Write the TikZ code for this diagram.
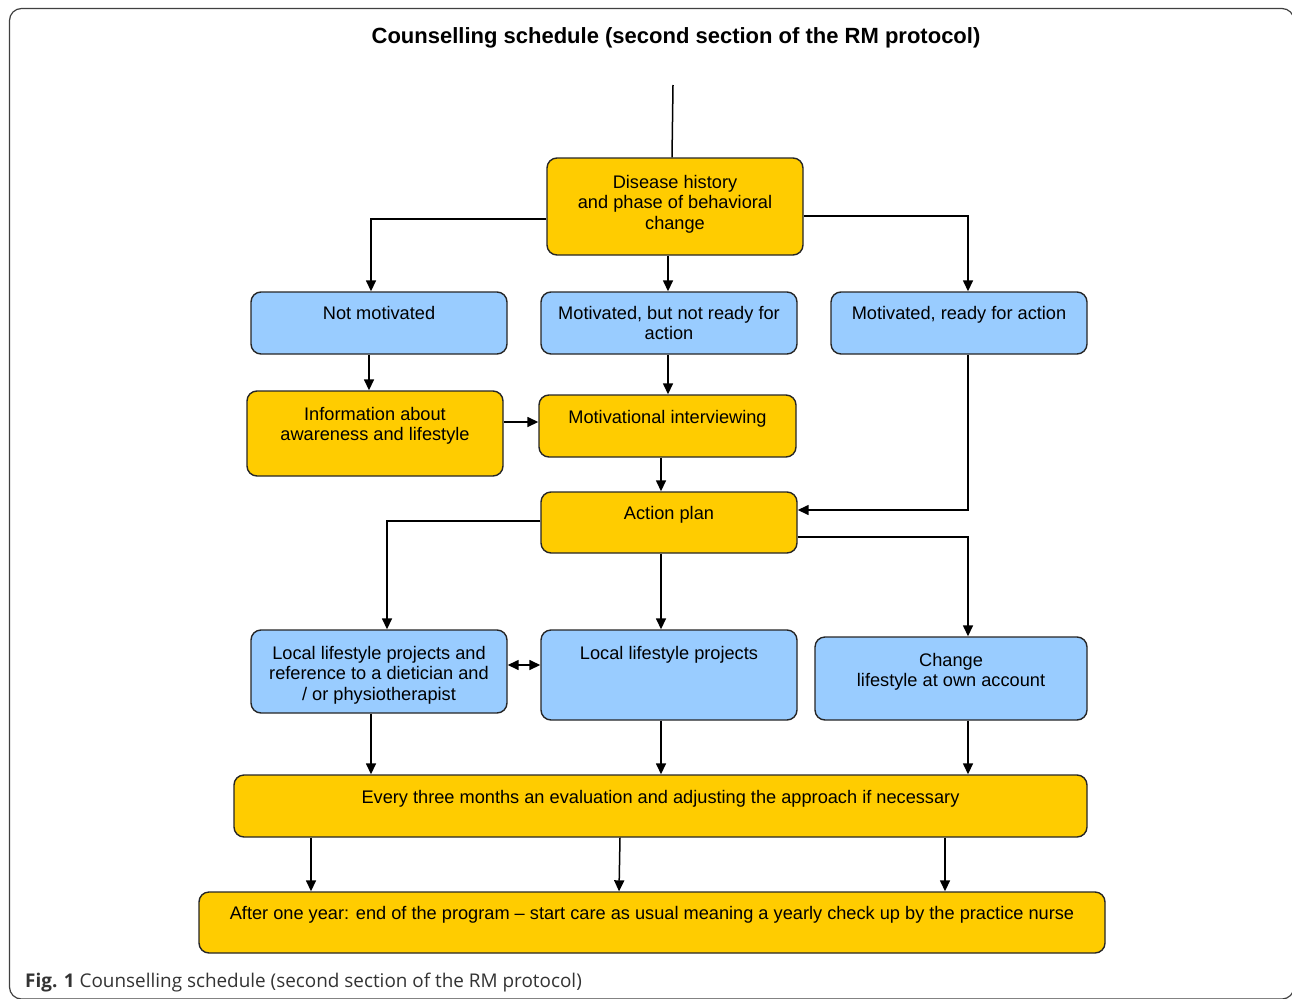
\documentclass[tikz,border=0pt]{standalone}
\usepackage{fontspec}
\setmainfont{Liberation Sans}
\newfontfamily\capfont{Open Sans}
\usetikzlibrary{arrows.meta,calc}
\definecolor{boxyellow}{HTML}{FFCC00}
\definecolor{boxblue}{HTML}{99CCFF}
\newcommand\mkbox[8]{%
  \node[#6, minimum width={#4-#2}, minimum height={#5-#3}] (#1) at ({(#2+#4)/2},{(#3+#5)/2}) {};
  \node[txt] (#1-t) at ({(#2+#4)/2},#8) {#7};
}
\begin{document}
\begin{tikzpicture}[x=1pt,y=-1pt,
  box/.style={draw=black!85, line width=1.4pt, rounded corners=10pt, inner sep=0pt},
  ybox/.style={box, fill=boxyellow},
  bbox/.style={box, fill=boxblue},
  txt/.style={anchor=north, inner sep=0pt, align=center, font=\fontsize{18.2}{20.5}\selectfont},
  plain/.style={line width=1.5pt},
  conn/.style={line width=1.5pt, -{Triangle[length=11pt,width=10pt]}},
  dconn/.style={line width=1.5pt, {Triangle[length=11pt,width=10pt]}-{Triangle[length=11pt,width=10pt]}},
]
\useasboundingbox (0,0) rectangle (1292,998);
\draw[line width=1.2pt, draw=black!75, rounded corners=12pt] (9.5,8.5) rectangle (1294,999);

\node[font=\bfseries\fontsize{22}{26}\selectfont] (title) at (676,38) {Counselling schedule (second section of the RM protocol)};

\mkbox{dis}{547}{158}{803}{255}{ybox}{Disease history\\and phase of behavioral\\change}{175}
\mkbox{nm}{251}{292}{507}{354}{bbox}{Not motivated}{306}
\mkbox{mb}{541}{292}{797}{354}{bbox}{Motivated, but not ready for\\action}{306}
\mkbox{mr}{831}{292}{1087}{354}{bbox}{Motivated, ready for action}{306}
\mkbox{info}{247}{391}{503}{476}{ybox}{Information about\\awareness and lifestyle}{407}
\mkbox{mi}{539}{395}{796}{457}{ybox}{Motivational interviewing}{410}
\mkbox{ap}{541}{492}{797}{553}{ybox}{Action plan}{506}
\mkbox{ld}{251}{630}{507}{713}{bbox}{Local lifestyle projects and\\reference to a dietician and\\/ or physiotherapist}{646}
\mkbox{ll}{541}{630}{797}{720}{bbox}{Local lifestyle projects}{646}
\mkbox{ch}{815}{637}{1087}{720}{bbox}{Change\\lifestyle at own account}{653}
\mkbox{ev}{234}{775}{1087}{837}{ybox}{Every three months an evaluation and adjusting the approach if necessary}{790}
\mkbox{ay}{199}{892}{1105}{953}{ybox}{After one year: end of the program -- start care as usual meaning a yearly check up by the practice nurse}{906}

\coordinate (top) at (673,85);
\draw[plain] (top) -- ($(dis.north)+(-3,0)$);
\draw[conn] ($(dis.west)+(0,12.5)$) -| ($(nm.north)+(-8,0)$);
\draw[conn] ($(dis.south)+(-7,0)$) -- ($(mb.north)+(-1,0)$);
\draw[conn] ($(dis.east)+(0,9.5)$) -| ($(mr.north)+(9,0)$);
\draw[conn] ($(nm.south)+(-10,0)$) -- ($(info.north)+(-6,0)$);
\draw[conn] ($(mb.south)+(-1,0)$) -- ($(mi.north)+(0.5,0)$);
\draw[conn] ($(info.east)+(0,-11.5)$) -- ($(mi.west)+(0,-4)$);
\draw[conn] ($(mi.south)+(-6.5,0)$) -- ($(ap.north)+(-8,0)$);
\draw[conn] ($(mr.south)+(9,0)$) |- ($(ap.east)+(0,-12.5)$);
\draw[conn] ($(ap.west)+(0,-1.5)$) -| ($(ld.north)+(8,0)$);
\draw[conn] ($(ap.south)+(-8,0)$) -- ($(ll.north)+(-8,0)$);
\draw[conn] ($(ap.east)+(0,14.5)$) -| ($(ch.north)+(17,0)$);
\draw[dconn] ($(ld.east)+(0,-6.5)$) -- ($(ll.west)+(0,-10)$);
\draw[conn] ($(ld.south)+(-8,0)$) -- ($(ev.north)+(-289.5,0)$);
\draw[conn] ($(ll.south)+(-8,0)$) -- ($(ev.north)+(0.5,0)$);
\draw[conn] ($(ch.south)+(17,0)$) -- ($(ev.north)+(307.5,0)$);
\draw[conn] ($(ev.south)+(-349.5,0)$) -- ($(ay.north)+(-341,0)$);
\draw[conn] ($(ev.south)+(-40.5,0)$) -- ($(ay.north)+(-33,0)$);
\draw[conn] ($(ev.south)+(284.5,0)$) -- ($(ay.north)+(293,0)$);

\node[anchor=base west, inner sep=0pt, font=\capfont\fontsize{18.9}{22}\selectfont, text=black!80] (cap) at (25,987) {\textbf{Fig. 1} Counselling schedule (second section of the RM protocol)};
\end{tikzpicture}
\end{document}
